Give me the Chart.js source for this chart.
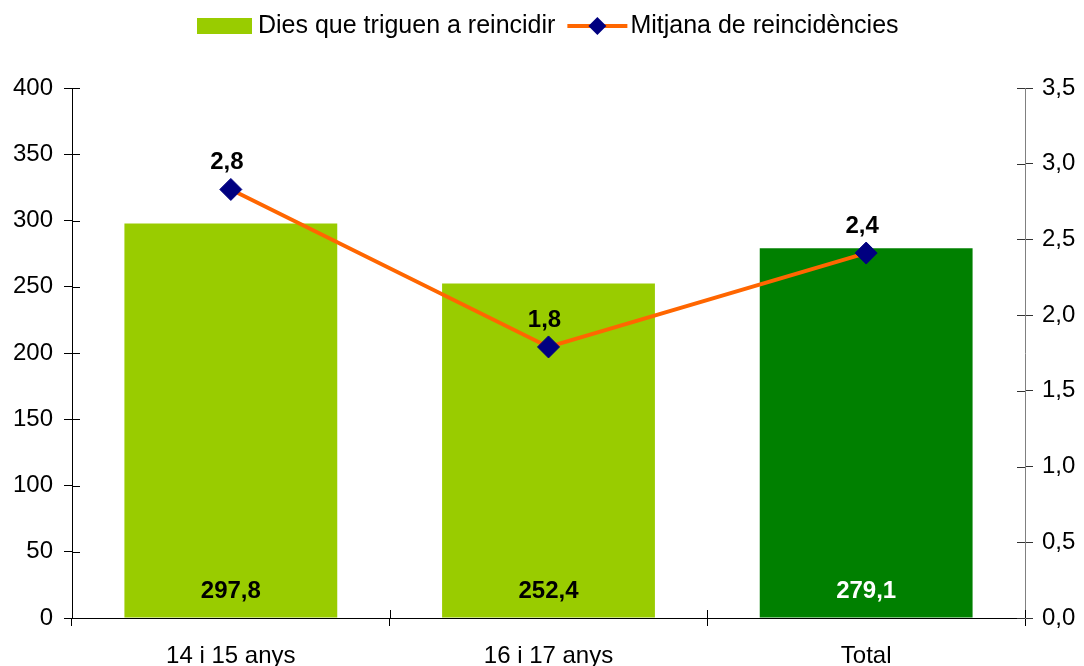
<!DOCTYPE html>
<html>
<head>
  <meta charset="UTF-8">
  <title>Dies que triguen a reincidir</title>
  <script src="https://cdn.jsdelivr.net/npm/chart.js"></script>
  <style>
    body, html {
      margin: 0;
      padding: 0;
      background: #fff;
    }
    #wrap {
      width: 1084px;
      height: 666px;
    }
  </style>
</head>
<body>
  <div id="wrap">
    <canvas id="chart" width="1084" height="666"></canvas>
  </div>

  <script>
    const categories = ["14 i 15 anys", "16 i 17 anys", "Total"];
    const diesValues = [297.8, 252.4, 279.1];
    const mitjanaValues = [2.83, 1.79, 2.41];
    const barColors = ["#99CC00", "#99CC00", "#008000"];
    const barLabelColors = ["#000", "#000", "#fff"];

    const FONT = "'Liberation Sans', Arial, sans-serif";
    const comma = (v, d) => Number(v).toFixed(d).replace('.', ',');

    // inner half of the tick marks (Chart.js only draws them outside)
    const innerTicks = {
      id: 'innerTicks',
      afterDraw(chart) {
        const ctx = chart.ctx;
        const { y, y1, x } = chart.scales;
        ctx.save();
        ctx.lineWidth = 1;
        ctx.strokeStyle = '#000';
        y.ticks.forEach(t => {
          const py = Math.round(y.getPixelForValue(t.value)) + 0.5;
          ctx.beginPath(); ctx.moveTo(y.right, py); ctx.lineTo(y.right + 8, py); ctx.stroke();
        });
        ctx.strokeStyle = '#333';
        y1.ticks.forEach(t => {
          const py = Math.round(y1.getPixelForValue(t.value)) + 0.5;
          ctx.beginPath(); ctx.moveTo(y1.left - 8, py); ctx.lineTo(y1.left, py); ctx.stroke();
        });
        ctx.strokeStyle = '#000';
        for (let i = 0; i <= categories.length; i++) {
          const px = Math.round(x.left + i * (x.width / categories.length)) + 0.5;
          ctx.beginPath(); ctx.moveTo(px, x.top - 8); ctx.lineTo(px, x.top); ctx.stroke();
        }
        ctx.restore();
      }
    };

    const valueLabels = {
      id: 'valueLabels',
      afterDatasetsDraw(chart) {
        const ctx = chart.ctx;
        ctx.save();
        ctx.font = 'bold 24px ' + FONT;
        ctx.textAlign = 'center';
        ctx.textBaseline = 'middle';
        const bars = chart.getDatasetMeta(0).data;
        bars.forEach((el, i) => {
          ctx.fillStyle = barLabelColors[i];
          ctx.fillText(comma(diesValues[i], 1), el.x, chart.scales.y.bottom - 27);
        });
        ctx.fillStyle = '#000';
        chart.getDatasetMeta(1).data.forEach((el, i) => {
          ctx.fillText(comma(mitjanaValues[i], 1), el.x - 4, el.y - 27);
        });
        ctx.restore();
      }
    };

    const topLegend = {
      id: 'topLegend',
      afterDraw(chart) {
        const ctx = chart.ctx;
        const ds = chart.data.datasets;
        const cy = 26;
        ctx.save();
        ctx.font = '25px ' + FONT;
        ctx.textBaseline = 'middle';
        ctx.fillStyle = barColors[0];
        ctx.fillRect(197, 18, 55, 16);
        ctx.fillStyle = '#000';
        ctx.fillText(ds[0].label, 258, cy);
        const lx = 258 + ctx.measureText(ds[0].label).width + 12;
        ctx.strokeStyle = '#FF6600';
        ctx.lineWidth = 4;
        ctx.beginPath(); ctx.moveTo(lx, cy); ctx.lineTo(lx + 60, cy); ctx.stroke();
        const dx = lx + 30, r = 9;
        ctx.fillStyle = '#000080';
        ctx.beginPath();
        ctx.moveTo(dx - r, cy); ctx.lineTo(dx, cy - r); ctx.lineTo(dx + r, cy); ctx.lineTo(dx, cy + r);
        ctx.closePath(); ctx.fill();
        ctx.fillStyle = '#000';
        ctx.fillText(ds[1].label, lx + 63, cy);
        ctx.restore();
      }
    };

    new Chart(document.getElementById('chart'), {
      data: {
        labels: categories,
        datasets: [
          {
            type: 'bar',
            label: 'Dies que triguen a reincidir',
            data: diesValues,
            backgroundColor: barColors,
            yAxisID: 'y',
            categoryPercentage: 1,
            barPercentage: 0.67,
            order: 1
          },
          {
            type: 'line',
            label: 'Mitjana de reincidències',
            data: mitjanaValues,
            borderColor: '#FF6600',
            borderWidth: 4,
            pointStyle: 'rectRot',
            pointRadius: 11,
            pointBackgroundColor: '#000080',
            pointBorderColor: '#000080',
            pointBorderWidth: 1,
            yAxisID: 'y1',
            order: 0
          }
        ]
      },
      options: {
        responsive: false,
        animation: false,
        layout: { padding: { top: 88, left: 0, right: 0, bottom: 0 } },
        plugins: {
          legend: { display: false },
          tooltip: { enabled: false }
        },
        scales: {
          x: {
            grid: { display: true, drawOnChartArea: false, tickLength: 8, color: '#000', offset: true },
            border: { color: '#000' },
            ticks: { color: '#000', font: { family: FONT, size: 24 }, padding: 16 },
            afterFit(s) { s.height = 48; }
          },
          y: {
            position: 'left',
            min: 0,
            max: 400,
            ticks: { stepSize: 50, color: '#000', font: { family: FONT, size: 24 }, padding: 11 },
            grid: { drawOnChartArea: false, tickLength: 8, color: '#000' },
            border: { color: '#000' },
            afterFit(s) { s.width = 72; }
          },
          y1: {
            position: 'right',
            min: 0,
            max: 3.5,
            ticks: {
              stepSize: 0.5,
              color: '#000',
              font: { family: FONT, size: 24 },
              padding: 9,
              callback: v => comma(v, 1)
            },
            grid: { drawOnChartArea: false, tickLength: 8, color: '#333' },
            border: { color: '#808080' },
            afterFit(s) { s.width = 59; }
          }
        }
      },
      plugins: [innerTicks, valueLabels, topLegend]
    });
  </script>
</body>
</html>
